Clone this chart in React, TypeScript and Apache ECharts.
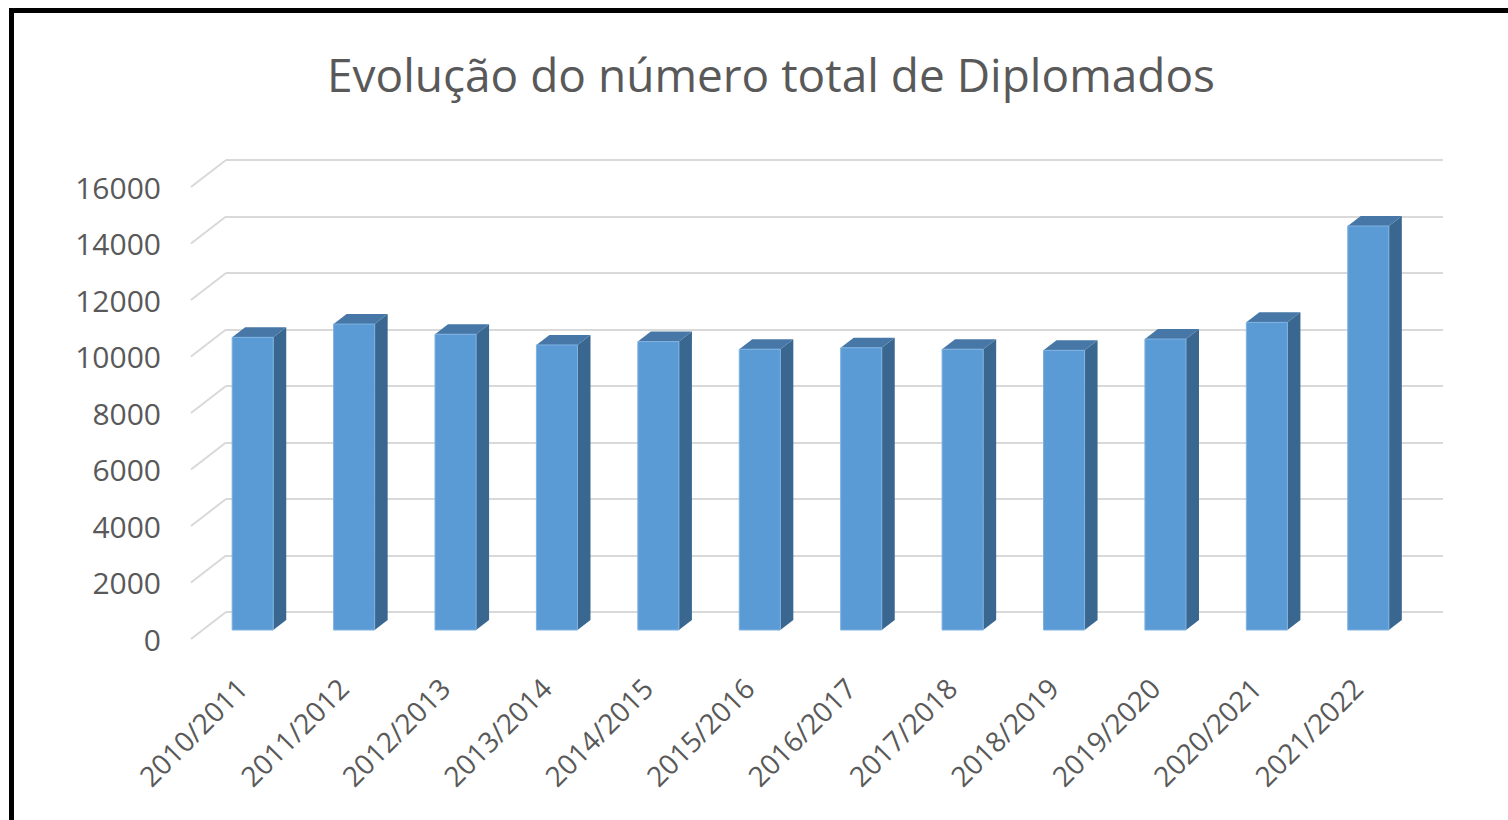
import React, { useEffect, useRef } from "react";
import * as echarts from "echarts";

const chartTitle = "Evolução do número total de Diplomados";
const categories = [
  "2010/2011", "2011/2012", "2012/2013", "2013/2014", "2014/2015", "2015/2016",
  "2016/2017", "2017/2018", "2018/2019", "2019/2020", "2020/2021", "2021/2022",
];
const diplomados = [10360, 10830, 10470, 10090, 10210, 9940, 9990, 9940, 9900, 10300, 10890, 14300];
const yTicks = [0, 2000, 4000, 6000, 8000, 10000, 12000, 14000, 16000];

const FONT = "'Open Sans', 'Noto Sans', sans-serif";
const TEXT = "#595959";
const GRID = "#D9D9D9";
const FRONT = "#5B9BD5";
const SIDE = "#3A6790";
const TOPC = "#4677A6";

const DEPTH_X = 35;
const DEPTH_Y = 27;
const BAR_DX = 13;
const BAR_DY = 10;

export default function App() {
  const ref = useRef<HTMLDivElement>(null);
  useEffect(() => {
    if (!ref.current) return;
    const chart = echarts.init(ref.current, null, { renderer: "svg" });
    const yAxisBase = { type: "value", min: 0, max: 16000, interval: 2000 };
    const option: any = {
      animation: false,
      backgroundColor: "#ffffff",
      graphic: [
        { type: "rect", shape: { x: 9, y: 8, width: 1499, height: 5 }, style: { fill: "#000" }, z: 100 },
        { type: "rect", shape: { x: 9, y: 8, width: 5, height: 812 }, style: { fill: "#000" }, z: 100 },
        {
          type: "text",
          x: 771,
          y: 74,
          style: {
            text: chartTitle,
            fill: TEXT,
            font: `normal 46px ${FONT}`,
            textAlign: "center",
            textVerticalAlign: "middle",
          },
        },
      ],
      grid: [
        { left: 226, top: 160, width: 1217, height: 452 },
        { left: 191, top: 187, width: 1217, height: 452 },
        { left: 202, top: 178, width: 1217, height: 452 },
      ],
      xAxis: [
        { type: "category", gridIndex: 0, data: categories, show: false },
        {
          type: "category",
          gridIndex: 1,
          data: categories,
          axisLine: { show: false },
          axisTick: { show: false },
          axisLabel: {
            rotate: 45,
            margin: 44,
            color: TEXT,
            fontFamily: FONT,
            fontSize: 28,
            interval: 0,
          },
        },
        { type: "category", gridIndex: 2, data: categories, show: false },
      ],
      yAxis: [
        {
          ...yAxisBase,
          gridIndex: 0,
          axisLine: { show: false },
          axisTick: { show: false },
          axisLabel: { show: false },
          splitLine: { show: true, lineStyle: { color: GRID, width: 2 } },
        },
        {
          ...yAxisBase,
          gridIndex: 1,
          axisLine: { show: false },
          axisTick: { show: false },
          splitLine: { show: false },
          axisLabel: {
            show: true,
            margin: 30,
            color: TEXT,
            fontFamily: FONT,
            fontSize: 30,
            formatter: (v: number) => String(v),
          },
        },
        {
          ...yAxisBase,
          gridIndex: 2,
          show: false,
          splitLine: { show: false },
        },
      ],
      series: [
        {
          type: "custom",
          xAxisIndex: 1,
          yAxisIndex: 1,
          data: yTicks.map((v) => [0, v]),
          clip: false,
          renderItem: (params: any, api: any) => {
            const cs = params.coordSys;
            const y = api.coord([0, api.value(1)])[1];
            return {
              type: "line",
              shape: { x1: cs.x, y1: y, x2: cs.x + DEPTH_X, y2: y - DEPTH_Y },
              style: { stroke: GRID, lineWidth: 2 },
            };
          },
        },
        {
          type: "custom",
          xAxisIndex: 2,
          yAxisIndex: 2,
          data: diplomados.map((v, i) => [i, v]),
          clip: false,
          renderItem: (params: any, api: any) => {
            const i = api.value(0);
            const v = api.value(1);
            const base = api.coord([i, 0]);
            const top = api.coord([i, v]);
            const band = api.size([1, 0])[0];
            const w = band * 0.405;
            const xl = base[0] - w / 2;
            const xr = base[0] + w / 2;
            return {
              type: "group",
              children: [
                {
                  type: "polygon",
                  shape: { points: [[xr, top[1]], [xr + BAR_DX, top[1] - BAR_DY], [xr + BAR_DX, base[1] - BAR_DY], [xr, base[1]]] },
                  style: { fill: SIDE },
                },
                {
                  type: "polygon",
                  shape: { points: [[xl, top[1]], [xl + BAR_DX, top[1] - BAR_DY], [xr + BAR_DX, top[1] - BAR_DY], [xr, top[1]]] },
                  style: { fill: TOPC },
                },
                {
                  type: "rect",
                  shape: { x: xl, y: top[1], width: w, height: base[1] - top[1] },
                  style: { fill: FRONT, stroke: "#7FB1E0", lineWidth: 1 },
                },
              ],
            };
          },
        },
      ],
    };
    chart.setOption(option);
    return () => chart.dispose();
  }, []);
  return (
    <div
      ref={ref}
      style={{ position: "fixed", left: 0, top: 0, width: 1508, height: 820, background: "#fff" }}
    />
  );
}
